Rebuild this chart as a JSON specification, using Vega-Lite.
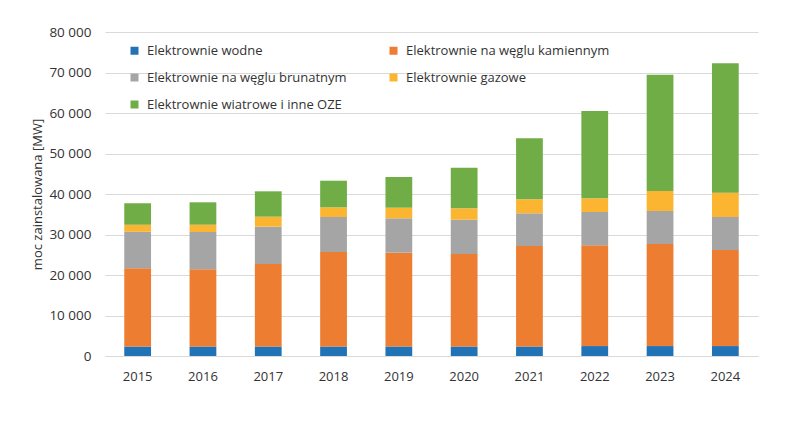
{
  "$schema": "https://vega.github.io/schema/vega-lite/v6.json",
  "width": 653,
  "height": 324,
  "autosize": "none",
  "padding": {"left": 105, "top": 32, "right": 36, "bottom": 66},
  "data": {
    "values": [
      {"rok": "2015", "typ": "Elektrownie wodne", "moc": 2350},
      {"rok": "2015", "typ": "Elektrownie na węglu kamiennym", "moc": 19300},
      {"rok": "2015", "typ": "Elektrownie na węglu brunatnym", "moc": 9040},
      {"rok": "2015", "typ": "Elektrownie gazowe", "moc": 1730},
      {"rok": "2015", "typ": "Elektrownie wiatrowe i inne OZE", "moc": 5280},
      {"rok": "2016", "typ": "Elektrownie wodne", "moc": 2350},
      {"rok": "2016", "typ": "Elektrownie na węglu kamiennym", "moc": 19050},
      {"rok": "2016", "typ": "Elektrownie na węglu brunatnym", "moc": 9220},
      {"rok": "2016", "typ": "Elektrownie gazowe", "moc": 1800},
      {"rok": "2016", "typ": "Elektrownie wiatrowe i inne OZE", "moc": 5530},
      {"rok": "2017", "typ": "Elektrownie wodne", "moc": 2350},
      {"rok": "2017", "typ": "Elektrownie na węglu kamiennym", "moc": 20370},
      {"rok": "2017", "typ": "Elektrownie na węglu brunatnym", "moc": 9210},
      {"rok": "2017", "typ": "Elektrownie gazowe", "moc": 2470},
      {"rok": "2017", "typ": "Elektrownie wiatrowe i inne OZE", "moc": 6260},
      {"rok": "2018", "typ": "Elektrownie wodne", "moc": 2350},
      {"rok": "2018", "typ": "Elektrownie na węglu kamiennym", "moc": 23330},
      {"rok": "2018", "typ": "Elektrownie na węglu brunatnym", "moc": 8640},
      {"rok": "2018", "typ": "Elektrownie gazowe", "moc": 2390},
      {"rok": "2018", "typ": "Elektrownie wiatrowe i inne OZE", "moc": 6570},
      {"rok": "2019", "typ": "Elektrownie wodne", "moc": 2350},
      {"rok": "2019", "typ": "Elektrownie na węglu kamiennym", "moc": 23160},
      {"rok": "2019", "typ": "Elektrownie na węglu brunatnym", "moc": 8490},
      {"rok": "2019", "typ": "Elektrownie gazowe", "moc": 2620},
      {"rok": "2019", "typ": "Elektrownie wiatrowe i inne OZE", "moc": 7580},
      {"rok": "2020", "typ": "Elektrownie wodne", "moc": 2350},
      {"rok": "2020", "typ": "Elektrownie na węglu kamiennym", "moc": 22840},
      {"rok": "2020", "typ": "Elektrownie na węglu brunatnym", "moc": 8460},
      {"rok": "2020", "typ": "Elektrownie gazowe", "moc": 2820},
      {"rok": "2020", "typ": "Elektrownie wiatrowe i inne OZE", "moc": 10030},
      {"rok": "2021", "typ": "Elektrownie wodne", "moc": 2350},
      {"rok": "2021", "typ": "Elektrownie na węglu kamiennym", "moc": 24810},
      {"rok": "2021", "typ": "Elektrownie na węglu brunatnym", "moc": 8070},
      {"rok": "2021", "typ": "Elektrownie gazowe", "moc": 3460},
      {"rok": "2021", "typ": "Elektrownie wiatrowe i inne OZE", "moc": 15060},
      {"rok": "2022", "typ": "Elektrownie wodne", "moc": 2450},
      {"rok": "2022", "typ": "Elektrownie na węglu kamiennym", "moc": 24880},
      {"rok": "2022", "typ": "Elektrownie na węglu brunatnym", "moc": 8230},
      {"rok": "2022", "typ": "Elektrownie gazowe", "moc": 3380},
      {"rok": "2022", "typ": "Elektrownie wiatrowe i inne OZE", "moc": 21550},
      {"rok": "2023", "typ": "Elektrownie wodne", "moc": 2450},
      {"rok": "2023", "typ": "Elektrownie na węglu kamiennym", "moc": 25200},
      {"rok": "2023", "typ": "Elektrownie na węglu brunatnym", "moc": 8150},
      {"rok": "2023", "typ": "Elektrownie gazowe", "moc": 4940},
      {"rok": "2023", "typ": "Elektrownie wiatrowe i inne OZE", "moc": 28720},
      {"rok": "2024", "typ": "Elektrownie wodne", "moc": 2450},
      {"rok": "2024", "typ": "Elektrownie na węglu kamiennym", "moc": 23720},
      {"rok": "2024", "typ": "Elektrownie na węglu brunatnym", "moc": 8150},
      {"rok": "2024", "typ": "Elektrownie gazowe", "moc": 6010},
      {"rok": "2024", "typ": "Elektrownie wiatrowe i inne OZE", "moc": 31940}
    ]
  },
  "transform": [
    {
      "calculate": "indexof(['Elektrownie wodne', 'Elektrownie na węglu kamiennym', 'Elektrownie na węglu brunatnym', 'Elektrownie gazowe', 'Elektrownie wiatrowe i inne OZE'], datum.typ)",
      "as": "kolejnosc"
    }
  ],
  "mark": {"type": "bar"},
  "encoding": {
    "x": {
      "field": "rok",
      "type": "ordinal",
      "scale": {"paddingInner": 0.59, "paddingOuter": 0.295},
      "axis": {
        "title": null,
        "labelAngle": 0,
        "ticks": false,
        "domainColor": "#d9d9d9",
        "domainWidth": 1,
        "labelPadding": 14,
        "labelFontSize": 13,
        "labelColor": "#333333"
      }
    },
    "y": {
      "field": "moc",
      "type": "quantitative",
      "stack": "zero",
      "scale": {"domain": [0, 80000]},
      "axis": {
        "title": "moc zainstalowana [MW]",
        "values": [0, 10000, 20000, 30000, 40000, 50000, 60000, 70000, 80000],
        "labelExpr": "replace(format(datum.value, ','), ',', ' ')",
        "domain": false,
        "ticks": false,
        "gridColor": "#d9d9d9",
        "labelPadding": 14,
        "labelFontSize": 13.5,
        "labelColor": "#333333",
        "titleFontSize": 13,
        "titleFontWeight": "normal",
        "titleColor": "#333333",
        "titlePadding": 4
      }
    },
    "color": {
      "field": "typ",
      "type": "nominal",
      "scale": {
        "domain": [
          "Elektrownie wodne",
          "Elektrownie na węglu kamiennym",
          "Elektrownie na węglu brunatnym",
          "Elektrownie gazowe",
          "Elektrownie wiatrowe i inne OZE"
        ],
        "range": ["#2272B6", "#ED7D31", "#A5A5A5", "#FBB530", "#70AD47"]
      },
      "legend": {
        "title": null,
        "orient": "none",
        "legendX": 23,
        "legendY": 12,
        "columns": 2,
        "columnPadding": 40,
        "rowPadding": 13,
        "values": [
          "Elektrownie wodne",
          "Elektrownie na węglu brunatnym",
          "Elektrownie wiatrowe i inne OZE",
          "Elektrownie na węglu kamiennym",
          "Elektrownie gazowe"
        ],
        "symbolType": "square",
        "symbolSize": 64,
        "symbolStrokeWidth": 0,
        "labelOffset": 6,
        "labelFontSize": 13,
        "labelColor": "#333333",
        "labelLimit": 400
      }
    },
    "order": {"field": "kolejnosc", "type": "quantitative"}
  },
  "config": {
    "view": {"stroke": null},
    "font": "Open Sans",
    "background": "#ffffff"
  }
}
